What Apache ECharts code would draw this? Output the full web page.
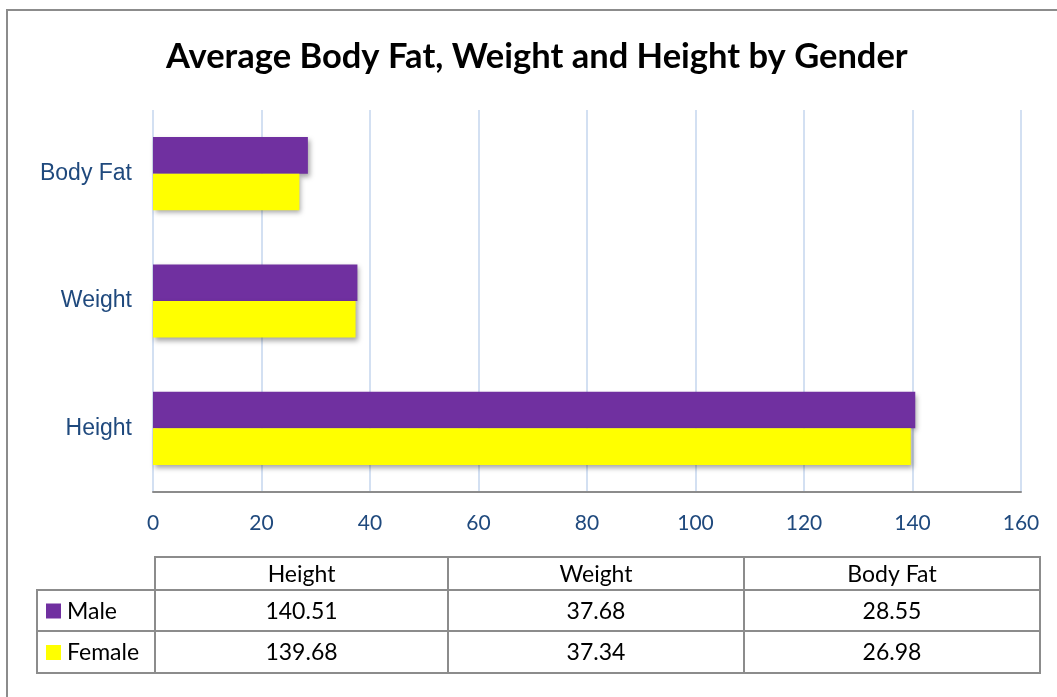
<!DOCTYPE html>
<html>
<head>
<meta charset="utf-8">
<script src="https://cdn.jsdelivr.net/npm/echarts@6/dist/echarts.min.js"></script>
<style>
  html, body { margin: 0; padding: 0; background: #fff; }
  #chart { width: 1057px; height: 697px; }
</style>
</head>
<body>
<div id="chart"></div>
<script>
// data
const categories = ['Height', 'Weight', 'Body Fat']
const seriesNames = ['Male', 'Female']
const male = [140.51, 37.68, 28.55]
const female = [139.68, 37.34, 26.98]
const xTicks = [0, 20, 40, 60, 80, 100, 120, 140, 160]

const colors = ['#7030A0', '#FFFF00']
const textFont = 'Lato, "Open Sans", sans-serif'
const cellFont = '23px ' + textFont

// data table under the chart
function buildTable () {
  const colX = [155, 448, 744, 1040]
  const rowY = [557, 590, 631, 673]
  const legendLeft = 37
  const line = { stroke: '#8c8c8c', lineWidth: 2 }
  const els = []
  const values = [male, female]

  // header cells
  for (let c = 0; c < categories.length; c++) {
    els.push({
      type: 'rect',
      shape: { x: colX[c], y: rowY[0], width: colX[c + 1] - colX[c], height: rowY[1] - rowY[0] },
      style: { fill: 'transparent', ...line }
    })
    els.push({
      type: 'text',
      x: (colX[c] + colX[c + 1]) / 2,
      y: (rowY[0] + rowY[1]) / 2 + 1,
      style: { text: categories[c], font: cellFont, fill: '#000', align: 'center', verticalAlign: 'middle' }
    })
  }

  // series rows
  seriesNames.forEach((name, r) => {
    const y0 = rowY[r + 1]
    const y1 = rowY[r + 2]
    els.push({
      type: 'rect',
      shape: { x: legendLeft, y: y0, width: colX[0] - legendLeft, height: y1 - y0 },
      style: { fill: 'transparent', ...line }
    })
    els.push({
      type: 'rect',
      shape: { x: 46, y: (y0 + y1) / 2 - 7, width: 15, height: 15 },
      style: { fill: colors[r] }
    })
    els.push({
      type: 'text',
      x: 67,
      y: (y0 + y1) / 2 + 1,
      style: { text: name, font: cellFont, fill: '#000', align: 'left', verticalAlign: 'middle' }
    })
    for (let c = 0; c < categories.length; c++) {
      els.push({
        type: 'rect',
        shape: { x: colX[c], y: y0, width: colX[c + 1] - colX[c], height: y1 - y0 },
        style: { fill: 'transparent', ...line }
      })
      els.push({
        type: 'text',
        x: (colX[c] + colX[c + 1]) / 2,
        y: (y0 + y1) / 2 + 1,
        style: { text: values[r][c].toFixed(2), font: cellFont, fill: '#000', align: 'center', verticalAlign: 'middle' }
      })
    }
  })

  // outer chart border
  els.push({
    type: 'rect',
    shape: { x: 7, y: 10, width: 1100, height: 800 },
    style: { fill: 'transparent', stroke: '#8c8c8c', lineWidth: 2 },
    silent: true
  })
  return els
}

const barShadow = {
  shadowBlur: 5,
  shadowOffsetX: 2,
  shadowOffsetY: 3,
  shadowColor: 'rgba(0,0,0,0.35)'
}

const option = {
  animation: false,
  backgroundColor: '#fff',
  title: {
    text: 'Average Body Fat, Weight and Height by Gender',
    left: 161,
    top: 34,
    textStyle: { fontFamily: textFont, fontWeight: 'bold', fontSize: 34.5, color: '#000' }
  },
  grid: { left: 153, right: 36, top: 110, bottom: 205, containLabel: false },
  xAxis: {
    type: 'value',
    min: xTicks[0],
    max: xTicks[xTicks.length - 1],
    interval: xTicks[1] - xTicks[0],
    axisLine: { show: true, lineStyle: { color: '#8c8c8c', width: 2 } },
    axisTick: { show: false },
    axisLabel: { color: '#1F497D', fontSize: 21, fontFamily: textFont, margin: 21 },
    splitLine: { show: true, lineStyle: { color: '#D3E0F2', width: 2 } }
  },
  yAxis: {
    type: 'category',
    data: categories,
    axisLine: { show: false },
    axisTick: { show: false },
    axisLabel: { color: '#1F497D', fontSize: 23, fontFamily: '"Liberation Sans", Arial, sans-serif', margin: 21 },
    splitLine: { show: false }
  },
  series: [
    {
      name: seriesNames[0],
      type: 'bar',
      data: male,
      barGap: '0%',
      barCategoryGap: '42.5%',
      itemStyle: { color: colors[0], ...barShadow }
    },
    {
      name: seriesNames[1],
      type: 'bar',
      data: female,
      barGap: '0%',
      barCategoryGap: '42.5%',
      itemStyle: { color: colors[1], ...barShadow }
    }
  ],
  graphic: buildTable()
}

const chart = echarts.init(document.getElementById('chart'), null, { renderer: 'canvas' })
chart.setOption(option)
</script>
</body>
</html>
